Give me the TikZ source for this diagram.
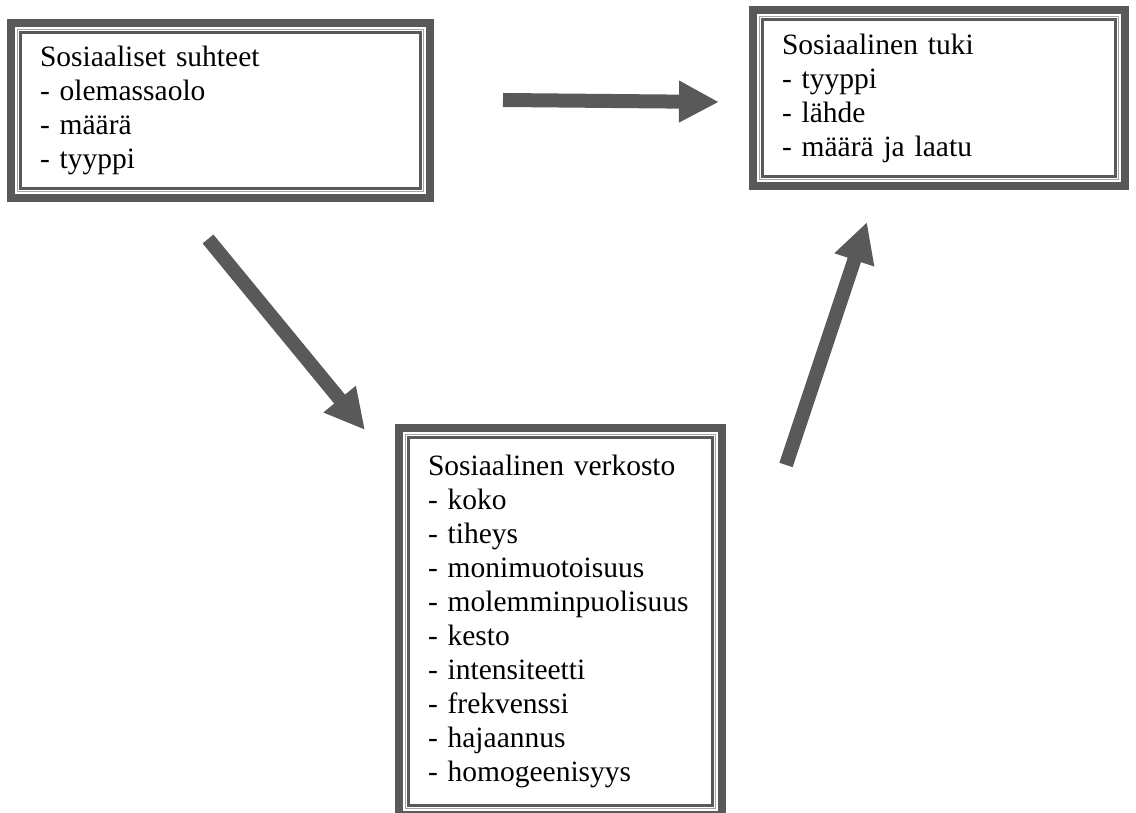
\documentclass[tikz,border=0pt]{standalone}
\usepackage{fontspec}
\setmainfont{Liberation Serif}
\usetikzlibrary{arrows.meta}
\definecolor{framegray}{HTML}{595959}

\begin{document}
\begin{tikzpicture}[x=1pt,y=1pt,
  frame/.style={draw=framegray,line width=8pt,outer sep=0pt,inner xsep=29pt,
    align=left,font=\fontsize{29.5}{34}\selectfont},
  bigarrow/.style={framegray,line width=14pt,-{Triangle[width=39pt,length=40pt]}}]
\useasboundingbox (0,0) rectangle (1136,813);
\node[frame,text width=361pt,minimum height=175pt] (suhteet) at (220.5,702.5)
  {Sosiaaliset suhteet\\- olemassaolo\\- määrä\\- tyyppi};
\node[frame,text width=314pt,minimum height=176pt] (tuki) at (939,715)
  {Sosiaalinen tuki\\- tyyppi\\- lähde\\- määrä ja laatu};
\node[frame,text width=265pt,minimum height=387pt] (verkosto) at (560.5,191.5)
  {Sosiaalinen verkosto\\- koko\\- tiheys\\- monimuotoisuus\\- molemminpuolisuus\\- kesto\\- intensiteetti\\- frekvenssi\\- hajaannus\\- homogeenisyys};
\foreach \n in {suhteet,tuki,verkosto}{
  \draw[framegray!55,line width=0.8pt] ([shift={(6.5,6.5)}]\n.south west) rectangle ([shift={(-6.5,-6.5)}]\n.north east);
  \draw[framegray,line width=2.3pt] ([shift={(9.5,9.5)}]\n.south west) rectangle ([shift={(-9.5,-9.5)}]\n.north east);
}
\coordinate (st1) at (503,713);
\coordinate (st2) at (719,711);
\coordinate (sv1) at (208,574);
\coordinate (sv2) at (365,383);
\coordinate (vt1) at (786,348);
\coordinate (vt2) at (867,591);
\draw[bigarrow] (st1) -- (st2);
\draw[bigarrow] (sv1) -- (sv2);
\draw[bigarrow] (vt1) -- (vt2);
\end{tikzpicture}
\end{document}
